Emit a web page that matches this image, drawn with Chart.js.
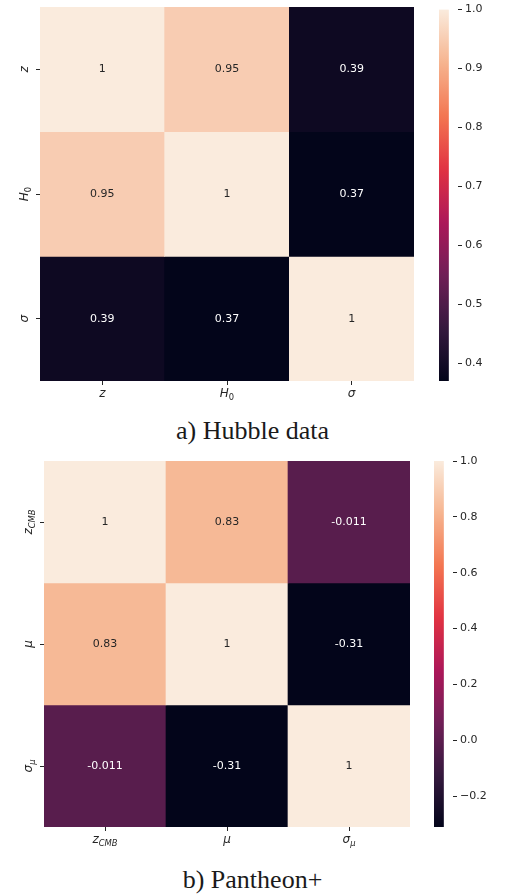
<!DOCTYPE html>
<html>
<head>
<meta charset="utf-8">
<script src="https://cdn.jsdelivr.net/npm/chart.js@4.4.1/dist/chart.umd.min.js"></script>
<style>
  html, body { margin: 0; padding: 0; background: #fff; width: 510px; height: 896px; overflow: hidden; }
  canvas { position: absolute; }
  .cap { position: absolute; left: 0; width: 505px; text-align: center;
         font-family: 'Liberation Serif', 'DejaVu Serif', serif; font-size: 26px; line-height: 26px; color: #1a1a1a; }
</style>
</head>
<body>
<canvas id="hubble" width="414" height="411" style="left:0;top:0"></canvas>
<canvas id="hubbleBar" width="80" height="411" style="left:430px;top:0"></canvas>
<div class="cap" style="top:418px">a) Hubble data</div>

<canvas id="pantheon" width="410" height="407" style="left:0;top:450px"></canvas>
<canvas id="pantheonBar" width="85" height="407" style="left:425px;top:450px"></canvas>
<div class="cap" style="top:867px">b) Pantheon+</div>

<script>
// Variable names (TeX-like: text after "_" is a subscript)
const hubbleLabels = ['z', 'H_0', 'σ'];
const pantheonLabels = ['z_CMB', 'μ', 'σ_μ'];

// Correlation matrices, row by row
const hubbleCorrRow1 = [1, 0.95, 0.39];
const hubbleCorrRow2 = [0.95, 1, 0.37];
const hubbleCorrRow3 = [0.39, 0.37, 1];

const pantheonCorrRow1 = [1, 0.83, -0.011];
const pantheonCorrRow2 = [0.83, 1, -0.31];
const pantheonCorrRow3 = [-0.011, -0.31, 1];

// Colour bar tick values
const hubbleBarTicks = [0.4, 0.5, 0.6, 0.7, 0.8, 0.9, 1.0];
const pantheonBarTicks = [-0.2, 0.0, 0.2, 0.4, 0.6, 0.8, 1.0];

const hubbleMatrix = [hubbleCorrRow1, hubbleCorrRow2, hubbleCorrRow3];
const pantheonMatrix = [pantheonCorrRow1, pantheonCorrRow2, pantheonCorrRow3];

const INK = '#262626';

// "rocket" colour map, sampled at i/7
const ROCKET = [
  [3, 5, 26], [53, 25, 62], [112, 31, 87], [173, 23, 89],
  [225, 51, 66], [243, 118, 81], [246, 180, 143], [250, 235, 221]
];
function rocket(t) {
  t = Math.min(1, Math.max(0, t));
  const p = t * (ROCKET.length - 1);
  const i = Math.min(ROCKET.length - 2, Math.floor(p));
  const f = p - i;
  return ROCKET[i].map((c, k) => c + (ROCKET[i + 1][k] - c) * f);
}
const rgb = c => `rgb(${c.map(Math.round).join(',')})`;
function luminance(c) {
  const l = c.map(v => { v /= 255; return v <= 0.03928 ? v / 12.92 : Math.pow((v + 0.055) / 1.055, 2.4); });
  return 0.2126 * l[0] + 0.7152 * l[1] + 0.0722 * l[2];
}
const fmt2g = v => String(Number(v.toPrecision(2)));

// Italic math-style label with optional subscript, centred on x, baseline at y
function drawMath(ctx, label, x, y, size) {
  const [base, sub] = label.split('_');
  const mainFont = `italic ${size}px 'DejaVu Sans'`;
  const subSize = size * 0.7;
  const subFont = sub && /^\d+$/.test(sub) ? `${subSize}px 'DejaVu Sans'` : `italic ${subSize}px 'DejaVu Sans'`;
  ctx.font = mainFont;
  const w1 = ctx.measureText(base).width;
  let w2 = 0;
  if (sub) { ctx.font = subFont; w2 = ctx.measureText(sub).width; }
  const sx = x - (w1 + w2) / 2;
  ctx.textAlign = 'left';
  ctx.textBaseline = 'alphabetic';
  ctx.fillStyle = INK;
  ctx.font = mainFont;
  ctx.fillText(base, sx, y);
  if (sub) { ctx.font = subFont; ctx.fillText(sub, sx + w1, y + size * 0.24); }
}

function heatmap(id, labels, matrix, g) {
  const flat = matrix.flat();
  const vmin = Math.min(...flat), vmax = Math.max(...flat);
  const datasets = matrix.map((row, r) => {
    const cols = row.map(v => rocket((v - vmin) / (vmax - vmin)));
    return {
      data: row.map(() => [r, r + 1]),
      backgroundColor: cols.map(rgb),
      textColors: cols.map(c => luminance(c) > 0.408 ? INK : '#ffffff'),
      values: row,
      grouped: false,
      barPercentage: 1,
      categoryPercentage: 1,
      borderWidth: 0,
      borderSkipped: false
    };
  });

  const annotate = {
    id: 'annotate',
    afterDatasetsDraw(chart) {
      const ctx = chart.ctx;
      ctx.save();
      ctx.font = "11px 'DejaVu Sans'";
      ctx.textAlign = 'center';
      ctx.textBaseline = 'middle';
      chart.data.datasets.forEach((ds, d) => {
        chart.getDatasetMeta(d).data.forEach((el, i) => {
          const p = el.getCenterPoint();
          ctx.fillStyle = ds.textColors[i];
          ctx.fillText(fmt2g(ds.values[i]), p.x, p.y);
        });
      });
      ctx.restore();
    }
  };

  const axisLabels = {
    id: 'axisLabels',
    afterDraw(chart) {
      const ctx = chart.ctx;
      const xs = chart.scales.x, ys = chart.scales.y;
      ctx.save();
      labels.forEach((lab, i) => {
        drawMath(ctx, lab, xs.getPixelForTick(i), xs.top + g.xBase, g.font);
      });
      labels.forEach((lab, i) => {
        ctx.save();
        ctx.translate(ys.right - g.yBase, ys.getPixelForTick(i));
        ctx.rotate(-Math.PI / 2);
        drawMath(ctx, lab, 0, 0, g.font);
        ctx.restore();
      });
      ctx.restore();
    }
  };

  const tickGrid = { drawOnChartArea: false, drawTicks: true, tickLength: 4, color: INK, lineWidth: 1 };

  new Chart(document.getElementById(id), {
    type: 'bar',
    data: { labels, datasets },
    options: {
      responsive: false,
      devicePixelRatio: 1,
      animation: false,
      layout: { padding: { top: g.top, left: 0, right: 0, bottom: 0 } },
      plugins: { legend: { display: false }, tooltip: { enabled: false } },
      scales: {
        x: {
          type: 'category',
          offset: true,
          grid: Object.assign({ offset: false }, tickGrid),
          border: { display: false },
          ticks: { display: false },
          afterFit: s => { s.height = 30; }
        },
        y: {
          type: 'linear',
          min: 0, max: labels.length,
          reverse: true,
          grid: tickGrid,
          border: { display: false },
          ticks: { display: false },
          afterBuildTicks: s => { s.ticks = labels.map((_, i) => ({ value: i + 0.5 })); },
          afterFit: s => { s.width = g.yw; }
        }
      }
    },
    plugins: [annotate, axisLabels]
  });
}

function colorbar(id, matrix, ticks, g) {
  const flat = matrix.flat();
  const vmin = Math.min(...flat), vmax = Math.max(...flat);
  new Chart(document.getElementById(id), {
    type: 'bar',
    data: {
      labels: [''],
      datasets: [{
        data: [[vmin, vmax]],
        barPercentage: 1,
        categoryPercentage: 1,
        borderWidth: 0,
        backgroundColor: ctx => {
          const chart = ctx.chart;
          if (!chart.chartArea) return '#000';
          const y = chart.scales.y;
          const grad = chart.ctx.createLinearGradient(0, y.getPixelForValue(vmin), 0, y.getPixelForValue(vmax));
          const N = 64;
          for (let i = 0; i <= N; i++) grad.addColorStop(i / N, rgb(rocket(i / N)));
          return grad;
        }
      }]
    },
    options: {
      responsive: false,
      devicePixelRatio: 1,
      animation: false,
      layout: { padding: { top: g.top, left: g.left, right: 0, bottom: 30 } },
      plugins: { legend: { display: false }, tooltip: { enabled: false } },
      scales: {
        x: { display: false, offset: false },
        y: {
          position: 'right',
          min: vmin, max: vmax,
          grid: { drawOnChartArea: false, drawTicks: true, tickLength: 4, color: INK, lineWidth: 1 },
          border: { display: false },
          ticks: {
            padding: 3,
            color: INK,
            font: { family: "'DejaVu Sans'", size: 11 },
            callback: v => v.toFixed(1).replace('-', '\u2212')
          },
          afterBuildTicks: s => { s.ticks = ticks.map(v => ({ value: v })); },
          afterFit: s => { s.width = g.yw; }
        }
      }
    }
  });
}

heatmap('hubble', hubbleLabels, hubbleMatrix, { top: 7, yw: 40, xBase: 16, yBase: 12, font: 12 });
colorbar('hubbleBar', hubbleMatrix, hubbleBarTicks, { top: 7, left: 9, yw: 52 });

heatmap('pantheon', pantheonLabels, pantheonMatrix, { top: 11, yw: 44, xBase: 16, yBase: 12, font: 12 });
colorbar('pantheonBar', pantheonMatrix, pantheonBarTicks, { top: 11, left: 9, yw: 57 });
</script>
</body>
</html>
